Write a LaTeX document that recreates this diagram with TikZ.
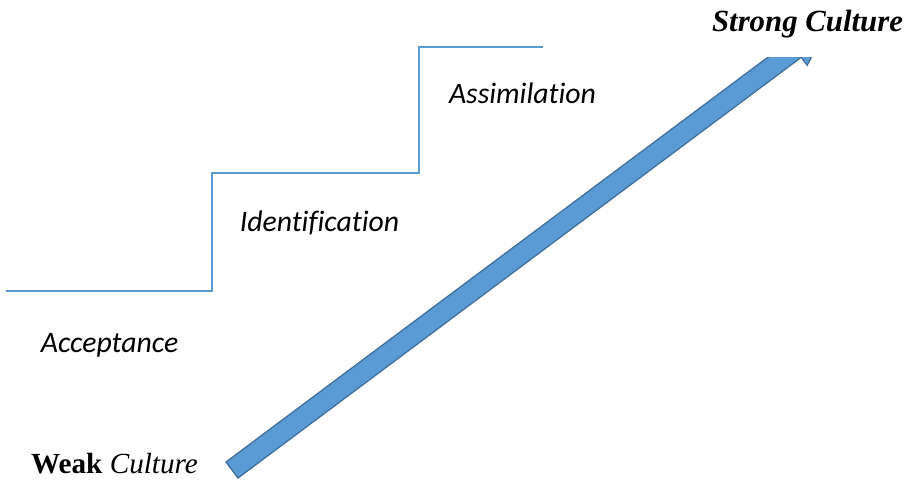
\documentclass[tikz,border=0pt]{standalone}
\usepackage{fontspec}
\setmainfont{Liberation Serif}
\newfontfamily\calib[Ligatures=CommonOff]{Carlito}
\definecolor{stairblue}{HTML}{5B9BD5}
\definecolor{barfill}{HTML}{5B9BD5}
\definecolor{barline}{HTML}{41719C}
\begin{document}
\begin{tikzpicture}[x=0.75pt,y=-0.75pt,
  stairline/.style={draw=stairblue,line width=1.1pt},
  steplabel/.style={font=\calib\itshape\fontsize{22.3}{26}\selectfont,anchor=base,inner sep=0pt},
  endlabel/.style={anchor=base,inner sep=0pt},
  bar/.style={fill=barfill,draw=barline,line width=1pt,line join=miter}]
\useasboundingbox (0,0) rectangle (913,480);
% staircase
\coordinate (s0) at (6,291);
\coordinate (s1) at (212,291);
\coordinate (s2) at (212,173);
\coordinate (s3) at (419,173);
\coordinate (s4) at (419,47);
\coordinate (s5) at (543,47);
\draw[stairline] (s0) -- (s1) -- (s2) -- (s3) -- (s4) -- (s5);
% block arrow
\draw[bar] (226.0,462.0) -- (789.2,41.3) -- (783.2,33.3) -- (827.3,25.4)
  -- (807.2,65.3) -- (801.2,57.3) -- (238.0,478.0) -- cycle;
% white text box covering the arrow head
\fill[white] (690,0) rectangle (913,57);
\node[endlabel,font=\bfseries\itshape\fontsize{23.1}{27}\selectfont] (strong) at (807.5,31) {Strong Culture};
\node[endlabel,font=\fontsize{21.9}{26}\selectfont] (weak) at (114.5,473) {\textbf{Weak} \textit{Culture}};
\node[steplabel] (acc) at (109.5,352) {Acceptance};
\node[steplabel] (ide) at (319.5,231) {Identification};
\node[steplabel] (ass) at (522.5,103) {Assimilation};
\end{tikzpicture}
\end{document}
